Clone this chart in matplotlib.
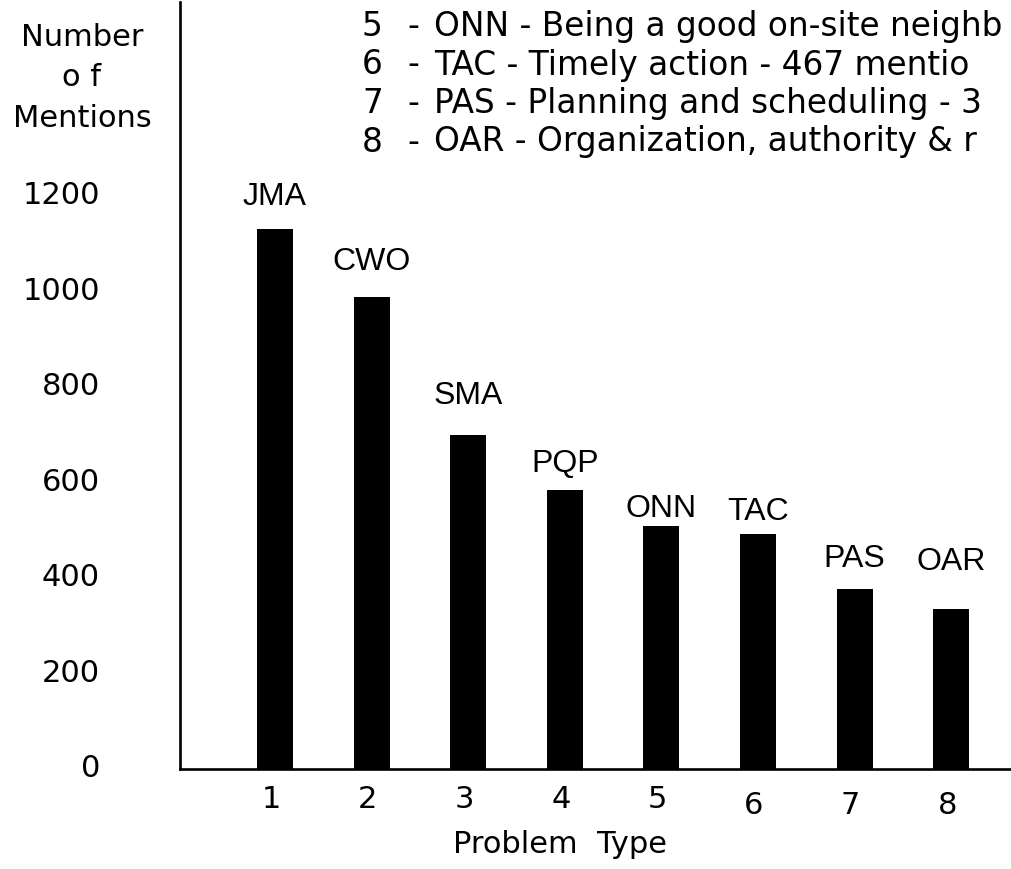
import matplotlib
matplotlib.use('Agg')
import matplotlib.pyplot as plt
from matplotlib.transforms import ScaledTranslation

plt.rcParams['font.family'] = ['DejaVu Sans']

# data
problem_types = [1, 2, 3, 4, 5, 6, 7, 8]
codes = ['JMA', 'CWO', 'SMA', 'PQP', 'ONN', 'TAC', 'PAS', 'OAR']
mentions = [1131, 988, 699, 584, 509, 492, 377, 335]
y_ticks = [0, 200, 400, 600, 800, 1000, 1200]
# key lines, as far as they show before the right edge
key_numbers = ['5', '6', '7', '8']
key_texts = ['ONN - Being a good on-site neighb',
             'TAC - Timely action - 467 mentio',
             'PAS - Planning and scheduling - 3',
             'OAR - Organization, authority & r']

# gap (px) between bar top and its code label
label_gaps = [25, 28, 32, 19, 10, 15, 23, 40]

W, H = 1011, 870
fig = plt.figure(figsize=(W / 100, H / 100), dpi=100)
fig.patch.set_facecolor('white')

ax = fig.add_axes([180 / W, 100 / H, 831 / W, 767 / H])
step = 96.6
x0 = 1 - (275 - 180) / step
ax.set_xlim(x0, x0 + 831 / step)
ax.set_ylim(0, 767 / 0.4775)

ax.bar(problem_types, mentions, width=36 / step, color='black')

for x, v, c, g in zip(problem_types, mentions, codes, label_gaps):
    ax.annotate(c, (x, v), xytext=(0, g * 0.72), textcoords='offset points',
                ha='center', va='baseline', fontsize=23,
                family=['Liberation Sans', 'DejaVu Sans'])

for s in ['top', 'right']:
    ax.spines[s].set_visible(False)
for s in ['left', 'bottom']:
    ax.spines[s].set_linewidth(1.9)
    ax.spines[s].set_color('black')

ax.set_yticks(y_ticks)
ax.set_xticks(problem_types)
ax.tick_params(axis='y', length=0, pad=57.6, labelsize=22)
ax.tick_params(axis='x', length=0, pad=11, labelsize=22)
px = fig.dpi_scale_trans
for lbl in ax.get_yticklabels():
    lbl.set_transform(lbl.get_transform() + ScaledTranslation(0, 4 / 100, px))
for i, lbl in enumerate(ax.get_xticklabels()):
    dy = -6 / 100 if i >= 5 else 0
    lbl.set_transform(lbl.get_transform() + ScaledTranslation(-4 / 100, dy, px))

fig.text(82 / W, 1 - 78 / H, 'Number\no f\nMentions', ha='center', va='center',
         fontsize=22, linespacing=1.5)
fig.text(560 / W, 1 - 845 / H, 'Problem  Type', ha='center', va='center', fontsize=22)

for i, (n, t) in enumerate(zip(key_numbers, key_texts)):
    yb = 1 - (36 + 38.5 * i) / H
    fig.text(362 / W, yb, n, ha='left', va='baseline', fontsize=23.6)
    fig.text(407 / W, yb, '-', ha='left', va='baseline', fontsize=23.6)
    fig.text(434 / W, yb, t, ha='left', va='baseline', fontsize=23.6)

fig.savefig('out.png', dpi=100, facecolor='white')
